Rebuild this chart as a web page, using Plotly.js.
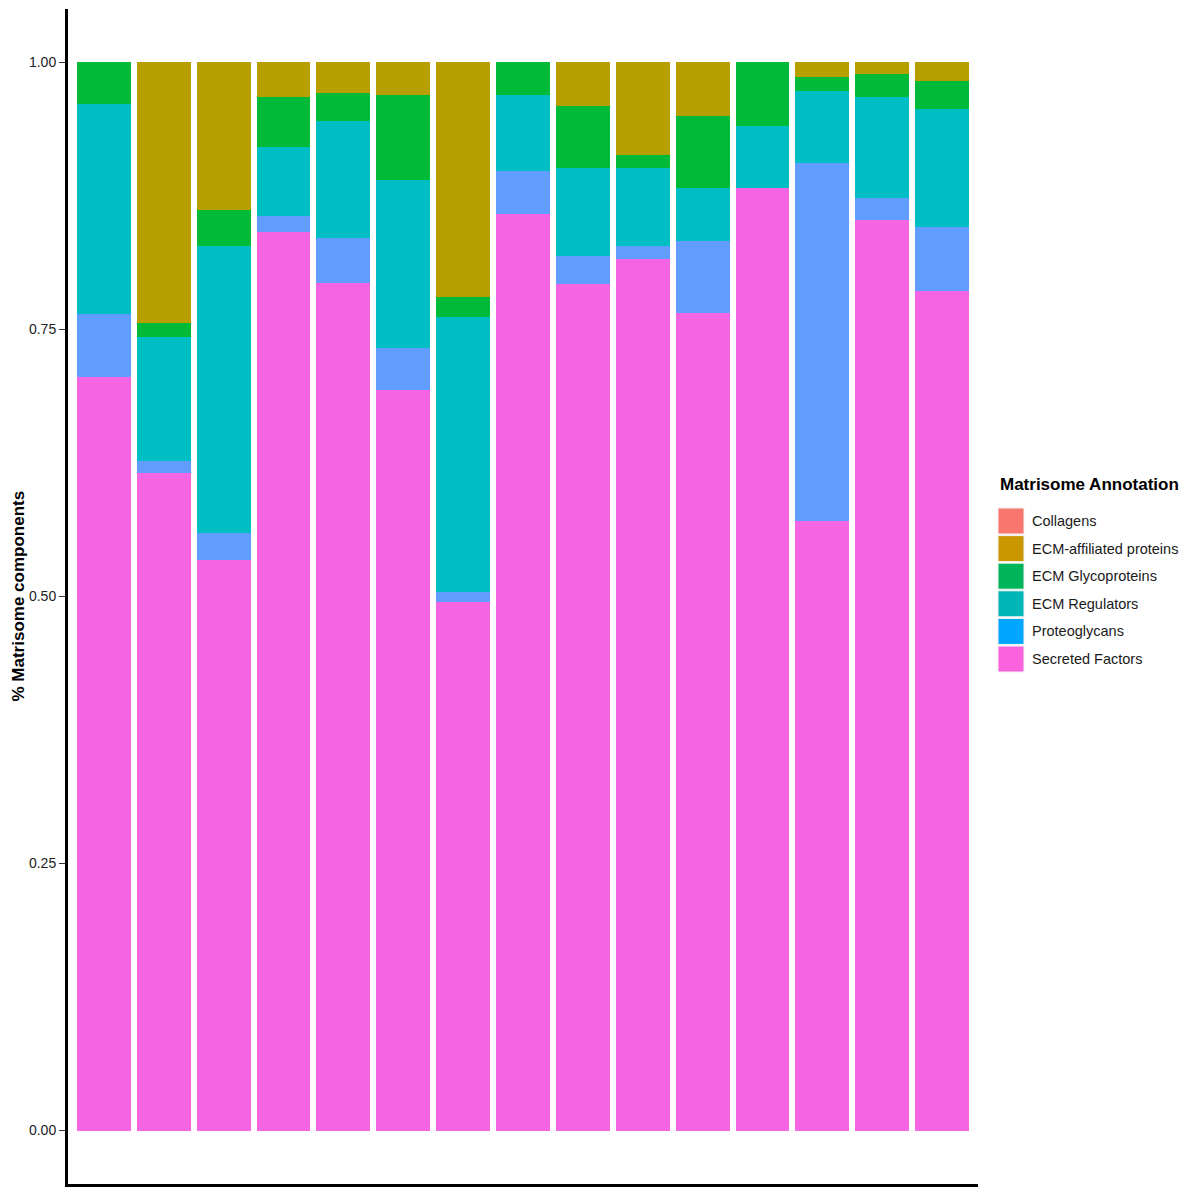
<!DOCTYPE html>
<html>
<head>
<meta charset="utf-8">
<script src="https://cdn.plot.ly/plotly-3.0.1.min.js"></script>
<style>html,body{margin:0;padding:0;background:#fff;}#chart{width:1200px;height:1198px;}</style>
</head>
<body>
<div id="chart"></div>
<script>
// ---- data ----
const samples = [1,2,3,4,5,6,7,8,9,10,11,12,13,14,15];
const secretedFactors   = [0.7056,0.6155,0.5341,0.8410,0.7939,0.6932,0.4946,0.8578,0.7926,0.8164,0.7655,0.8824,0.5706,0.8522,0.7864];
const proteoglycans     = [0.0589,0.0115,0.0253,0.0156,0.0414,0.0396,0.0099,0.0402,0.0259,0.0122,0.0677,0.0000,0.3352,0.0212,0.0592];
const ecmRegulators     = [0.1962,0.1164,0.2691,0.0639,0.1094,0.1575,0.2570,0.0718,0.0826,0.0726,0.0492,0.0584,0.0674,0.0941,0.1107];
const ecmGlycoproteins  = [0.0393,0.0124,0.0330,0.0471,0.0268,0.0795,0.0190,0.0302,0.0577,0.0125,0.0671,0.0592,0.0135,0.0212,0.0259];
const ecmAffiliated     = [0.0000,0.2442,0.1385,0.0324,0.0285,0.0302,0.2195,0.0000,0.0412,0.0863,0.0505,0.0000,0.0133,0.0113,0.0178];
const collagens         = [0,0,0,0,0,0,0,0,0,0,0,0,0,0,0];

const yTickVals  = [0, 0.25, 0.5, 0.75, 1];
const yTickTexts = ["0.00", "0.25", "0.50", "0.75", "1.00"];

// stacking order bottom -> top
const stackNames  = ["Secreted Factors","Proteoglycans","ECM Regulators","ECM Glycoproteins","ECM-affiliated proteins","Collagens"];
const stackValues = [secretedFactors, proteoglycans, ecmRegulators, ecmGlycoproteins, ecmAffiliated, collagens];
const stackColors = ["#F564E3","#619CFF","#00BFC4","#00BA38","#B79F00","#F8766D"];

// legend (as shown in the reference)
const legendTitle  = "Matrisome Annotation";
const legendNames  = ["Collagens","ECM-affiliated proteins","ECM Glycoproteins","ECM Regulators","Proteoglycans","Secreted Factors"];
const legendColors = ["#F8766D","#C99800","#00B45A","#00B5B8","#00A6FF","#F962DD"];

// ---- layout geometry ----
const W = 1200, H = 1198;
const mL = 68, mR = 222, mT = 9, mB = 14;
const plotW = W - mL - mR, plotH = H - mT - mB;
const px = x => (x - mL) / plotW;
const py = y => (H - mB - y) / plotH;

const traces = stackNames.map((name, i) => ({
  type: 'bar',
  name: name,
  x: samples,
  y: stackValues[i],
  marker: {color: stackColors[i], line: {width: 0}},
  showlegend: false,
  hoverinfo: 'name+y'
}));

const shapes = [];
const annotations = [];
// legend title
annotations.push({
  xref: 'paper', yref: 'paper', x: px(998), y: py(484),
  xanchor: 'left', yanchor: 'middle', showarrow: false,
  text: '<b>' + legendTitle + '</b>',
  font: {family: 'Liberation Sans, Arial, sans-serif', size: 17, color: '#000'}
});
legendNames.forEach((n, i) => {
  const cy = 521 + i * 27.6;
  shapes.push({
    type: 'rect', xref: 'paper', yref: 'paper',
    x0: px(998), x1: px(1024), y0: py(cy - 13), y1: py(cy + 13),
    fillcolor: legendColors[i], line: {width: 1, color: '#f2f2f2'}
  });
  annotations.push({
    xref: 'paper', yref: 'paper', x: px(1030), y: py(cy),
    xanchor: 'left', yanchor: 'middle', showarrow: false,
    text: n,
    font: {family: 'Liberation Sans, Arial, sans-serif', size: 14.5, color: '#1a1a1a'}
  });
});
// y axis title
annotations.push({
  xref: 'paper', yref: 'paper', x: px(18), y: 0.5,
  xanchor: 'center', yanchor: 'middle', showarrow: false, textangle: -90,
  text: '<b>% Matrisome components</b>',
  font: {family: 'Liberation Sans, Arial, sans-serif', size: 17, color: '#000'}
});

const layout = {
  width: W, height: H,
  margin: {l: mL, r: mR, t: mT, b: mB, pad: 0},
  paper_bgcolor: '#fff', plot_bgcolor: '#fff',
  barmode: 'stack',
  bargap: 0.1,
  showlegend: false,
  xaxis: {
    range: [0.4, 15.6], showticklabels: false, ticks: '', showgrid: false, zeroline: false,
    showline: true, linecolor: '#000', linewidth: 3, fixedrange: true
  },
  yaxis: {
    range: [-0.05, 1.05], tickvals: yTickVals, ticktext: yTickTexts,
    ticks: 'outside', ticklen: 6, tickwidth: 1, tickcolor: '#333',
    tickfont: {family: 'Liberation Sans, Arial, sans-serif', size: 14, color: '#222'},
    showgrid: false, zeroline: false, showline: true, linecolor: '#000', linewidth: 3,
    automargin: false
  },
  shapes: shapes,
  annotations: annotations
};

Plotly.newPlot('chart', traces, layout, {displayModeBar: false, staticPlot: true});
</script>
</body>
</html>
